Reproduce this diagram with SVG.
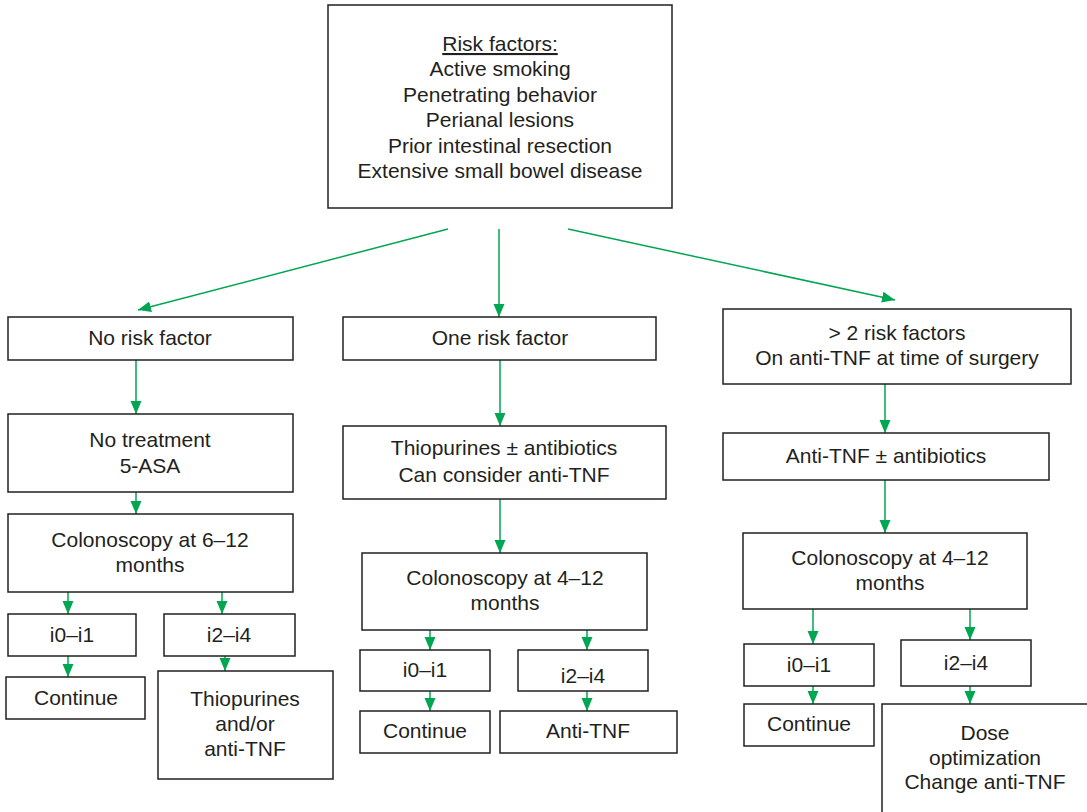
<svg xmlns="http://www.w3.org/2000/svg" width="1087" height="812" viewBox="0 0 1087 812">
<style>
.b{fill:#fff;stroke:#231f20;stroke-width:1.5}
text{font-family:"Liberation Sans",Arial,sans-serif;font-size:21px;fill:#231f20;text-anchor:middle}
.c line{stroke:#00a651;stroke-width:1.5;fill:none}
</style>
<defs>
<marker id="a" markerUnits="userSpaceOnUse" markerWidth="14" markerHeight="14" viewBox="0 0 14 14" refX="13" refY="7" orient="auto">
<path d="M0,1.5 L13,7 L0,12.5 Z" fill="#00a651"/>
</marker>
</defs>
<rect width="1087" height="812" fill="#fff"/>
<g class="c">
<line x1="448" y1="229" x2="138" y2="310" marker-end="url(#a)"/>
<line x1="499" y1="229" x2="499" y2="317" marker-end="url(#a)"/>
<line x1="568" y1="229" x2="895" y2="300" marker-end="url(#a)"/>
<line x1="136" y1="360" x2="136" y2="414" marker-end="url(#a)"/>
<line x1="136" y1="492" x2="136" y2="514" marker-end="url(#a)"/>
<line x1="68" y1="592" x2="68" y2="614" marker-end="url(#a)"/>
<line x1="222" y1="592" x2="222" y2="614" marker-end="url(#a)"/>
<line x1="68" y1="656" x2="68" y2="677" marker-end="url(#a)"/>
<line x1="225" y1="656" x2="225" y2="671" marker-end="url(#a)"/>
<line x1="500" y1="360" x2="500" y2="426" marker-end="url(#a)"/>
<line x1="500" y1="499" x2="500" y2="553" marker-end="url(#a)"/>
<line x1="430" y1="630" x2="430" y2="650" marker-end="url(#a)"/>
<line x1="587" y1="630" x2="587" y2="650" marker-end="url(#a)"/>
<line x1="430" y1="691" x2="430" y2="711" marker-end="url(#a)"/>
<line x1="587" y1="691" x2="587" y2="711" marker-end="url(#a)"/>
<line x1="885" y1="384" x2="885" y2="433" marker-end="url(#a)"/>
<line x1="885" y1="480" x2="885" y2="533" marker-end="url(#a)"/>
<line x1="813" y1="609" x2="813" y2="644" marker-end="url(#a)"/>
<line x1="970" y1="609" x2="970" y2="640" marker-end="url(#a)"/>
<line x1="813" y1="686" x2="813" y2="704" marker-end="url(#a)"/>
<line x1="970" y1="686" x2="970" y2="704" marker-end="url(#a)"/>
</g>
<g id="risk"><rect class="b" x="328" y="5" width="344" height="203"/>
<text x="500" y="51" text-decoration="underline">Risk factors:</text>
<text x="500" y="76">Active smoking</text>
<text x="500" y="102">Penetrating behavior</text>
<text x="500" y="127">Perianal lesions</text>
<text x="500" y="153">Prior intestinal resection</text>
<text x="500" y="178">Extensive small bowel disease</text></g>
<g id="none"><rect class="b" x="8" y="317" width="285" height="43"/><text x="150" y="345">No risk factor</text></g>
<g id="one"><rect class="b" x="343" y="317" width="313" height="43"/><text x="500" y="345">One risk factor</text></g>
<g id="two"><rect class="b" x="723" y="309" width="348" height="75"/><text x="897" y="340">&gt; 2 risk factors</text><text x="897" y="365">On anti-TNF at time of surgery</text></g>
<g id="notreat"><rect class="b" x="8" y="414" width="285" height="78"/><text x="150" y="447">No treatment</text><text x="150" y="473">5-ASA</text></g>
<g id="colo1"><rect class="b" x="8" y="514" width="285" height="78"/><text x="150" y="547">Colonoscopy at 6–12</text><text x="150" y="572">months</text></g>
<g id="l01"><rect class="b" x="8" y="614" width="128" height="42"/><text x="72" y="642">i0–i1</text></g>
<g id="l24"><rect class="b" x="164" y="614" width="131" height="42"/><text x="229" y="642">i2–i4</text></g>
<g id="lcont"><rect class="b" x="6" y="677" width="139" height="42"/><text x="76" y="705">Continue</text></g>
<g id="lthio"><rect class="b" x="158" y="671" width="175" height="108"/><text x="245" y="706">Thiopurines</text><text x="245" y="731">and/or</text><text x="245" y="756">anti-TNF</text></g>
<g id="thio"><rect class="b" x="343" y="426" width="323" height="73"/><text x="504" y="455">Thiopurines ± antibiotics</text><text x="504" y="482">Can consider anti-TNF</text></g>
<g id="colo2"><rect class="b" x="362" y="553" width="285" height="77"/><text x="505" y="585">Colonoscopy at 4–12</text><text x="505" y="610">months</text></g>
<g id="m01"><rect class="b" x="360" y="650" width="130" height="41"/><text x="425" y="677">i0–i1</text></g>
<g id="m24"><rect class="b" x="518" y="650" width="130" height="41"/><text x="583" y="683">i2–i4</text></g>
<g id="mcont"><rect class="b" x="360" y="711" width="130" height="42"/><text x="425" y="738">Continue</text></g>
<g id="mtnf"><rect class="b" x="500" y="711" width="177" height="42"/><text x="588" y="738">Anti-TNF</text></g>
<g id="tnf"><rect class="b" x="723" y="433" width="326" height="47"/><text x="886" y="463">Anti-TNF ± antibiotics</text></g>
<g id="colo3"><rect class="b" x="743" y="533" width="284" height="76"/><text x="890" y="565">Colonoscopy at 4–12</text><text x="890" y="590">months</text></g>
<g id="r01"><rect class="b" x="744" y="644" width="130" height="42"/><text x="809" y="672">i0–i1</text></g>
<g id="r24"><rect class="b" x="901" y="640" width="130" height="46"/><text x="966" y="670">i2–i4</text></g>
<g id="rcont"><rect class="b" x="744" y="704" width="130" height="42"/><text x="809" y="731">Continue</text></g>
<g id="dose"><rect class="b" x="882" y="704" width="215" height="118"/><text x="985" y="740">Dose</text><text x="985" y="765">optimization</text><text x="985" y="789">Change anti-TNF</text></g>
</svg>
